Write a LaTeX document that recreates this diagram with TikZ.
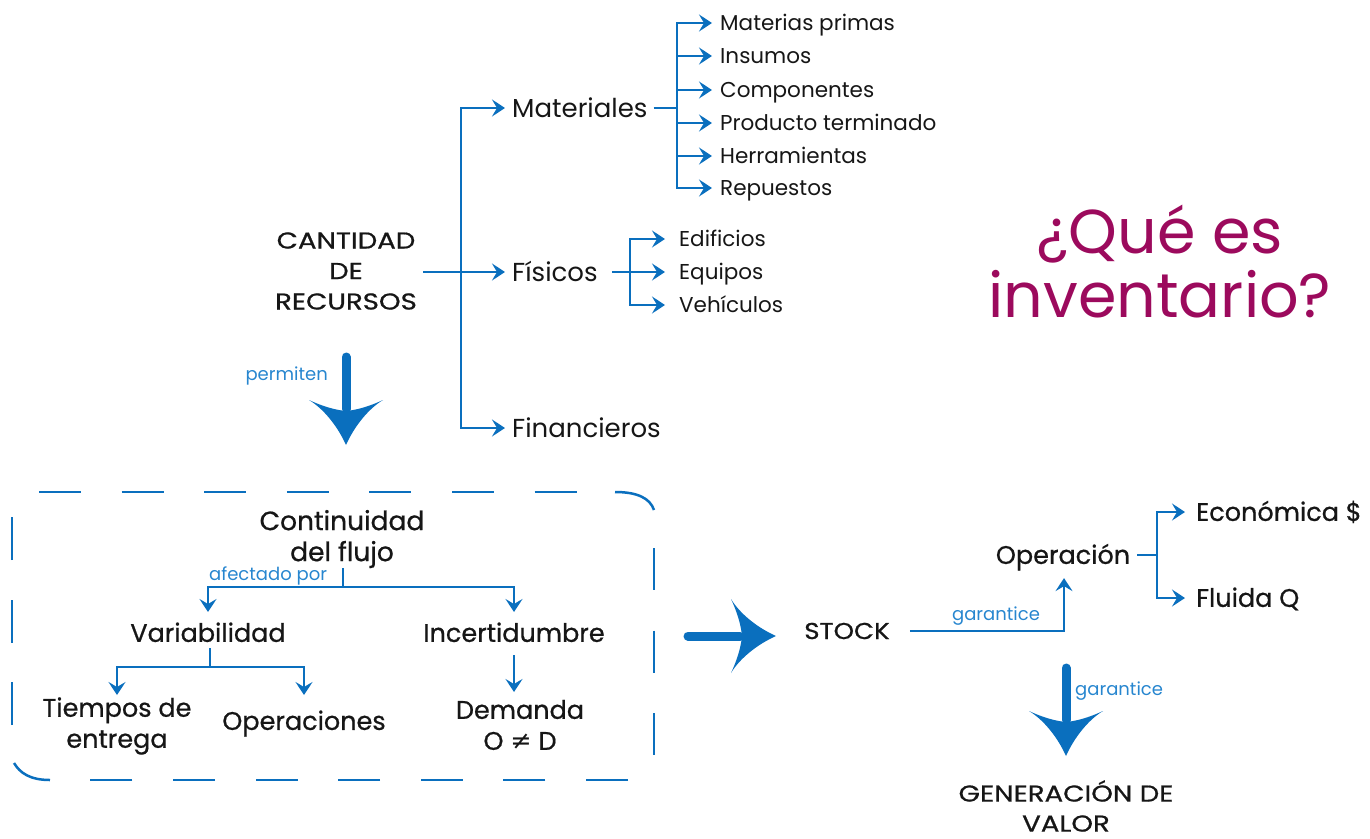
\documentclass[tikz,border=0pt]{standalone}
\usepackage{fontspec}
\setmainfont{Poppins}
\newfontfamily\medfont[FakeBold=0.7]{Poppins}
\newfontfamily\symfont{DejaVu Sans}
\usetikzlibrary{arrows.meta}
\definecolor{flow}{HTML}{0A6FBE}
\definecolor{tag}{HTML}{2786CF}
\definecolor{ink}{HTML}{161616}
\definecolor{headline}{HTML}{9C0A5D}
\newcommand{\wide}[1]{\scalebox{1.2}[1]{#1}}
\begin{document}
\begin{tikzpicture}[x=1pt,y=-1pt,
  every node/.style={inner sep=0pt, text=ink},
  item/.style={anchor=west, font=\fontsize{21.5}{24}\selectfont, text height=15pt, text depth=0pt},
  branch/.style={anchor=west, font=\fontsize{26}{30}\selectfont, text height=18.2pt, text depth=0pt},
  med/.style={font=\medfont\fontsize{25.5}{31}\selectfont, text height=17.8pt, text depth=0pt},
  medlines/.style={align=center, font=\medfont\fontsize{25.5}{31}\selectfont},
  capslines/.style={align=center, font=\medfont\fontsize{23}{30.5}\selectfont},
  tagtext/.style={text=tag, font=\fontsize{18}{20}\selectfont, text height=10pt, text depth=0pt},
  link/.style={draw=flow, line width=2.6pt},
  arr/.style={link, -{Stealth[length=13pt,width=17pt,inset=5pt]}},
  dashline/.style={draw=flow, line width=2.5pt, dash pattern=on 42pt off 40.6pt},
  bigarrow/.pic={
    \draw[flow, line width=9pt, line cap=round] (0,0) -- (52,0);
    \fill[flow] (88,0) .. controls (70,-8) and (52,-22) .. (43,-37)
      .. controls (50,-22) and (53,-10) .. (54,0)
      .. controls (53,10) and (50,22) .. (43,37)
      .. controls (52,22) and (70,8) .. (88,0) -- cycle;
  }]
\useasboundingbox (0,0) rectangle (1370,838);

% ---- resources tree ----
\node[capslines] (cant) at (346,271) {\wide{CANTIDAD}\\\wide{DE}\\\wide{RECURSOS}};
\node[branch] (mat) at (512,108) {Materiales};
\node[branch] (fis) at (512,272) {Físicos};
\node[branch] (fin) at (512,428) {Financieros};

\coordinate (t1) at (461,272);
\draw[arr] ([xshift=6pt]cant.east |- fis.west) -- ([xshift=-7pt]fis.west);
\draw[arr] (t1) |- ([xshift=-7pt]mat.west);
\draw[arr] (t1) |- ([xshift=-7pt]fin.west);

% materials
\node[item] (m1) at (720,23) {Materias primas};
\node[item] (m2) at (720,56) {Insumos};
\node[item] (m3) at (720,90) {Componentes};
\node[item] (m4) at (720,123) {Producto terminado};
\node[item] (m5) at (720,156) {Herramientas};
\node[item] (m6) at (720,188) {Repuestos};
\coordinate (t2) at (677,108);
\draw[link] ([xshift=6pt]mat.east) -- (t2);
\foreach \m in {m1,m2,m3,m4,m5,m6}
  \draw[arr] (t2) |- ([xshift=-8pt]\m.west);

% physical
\node[item] (f1) at (679,239) {Edificios};
\node[item] (f2) at (679,272) {Equipos};
\node[item] (f3) at (679,305) {Vehículos};
\coordinate (t3) at (630,272);
\draw[link] ([xshift=14pt]fis.east) -- (t3);
\foreach \f in {f1,f2,f3}
  \draw[arr] (t3) |- ([xshift=-14pt]\f.west);

% ---- title ----
\node[text=headline, align=center, font=\fontsize{62}{64}\selectfont] (title) at (1160,262) {¿Qué es\\inventario?};

% ---- permiten ----
\pic[rotate=-90] at (346,357) {bigarrow};
\node[tagtext, anchor=east] (perm) at (328,375) {permiten};

% ---- flow continuity box ----
\draw[dashline] (39,492) -- (600,492);
\draw[flow, line width=2.5pt] (615,492) .. controls (637,492) and (650,498) .. (654,510);
\draw[dashline] (654,548) -- (654,780);
\draw[dashline] (628,780) -- (60,780);
\draw[flow, line width=2.5pt] (50,780) .. controls (30,780) and (20,773) .. (14,763);
\draw[flow, line width=2.5pt, dash pattern=on 43pt off 39.5pt] (12,725) -- (12,492);

\node[medlines, font=\medfont\fontsize{26.5}{31}\selectfont] (cont) at (342,539) {Continuidad\\del flujo};
\node[med] (var) at (208,633) {Variabilidad};
\node[med] (inc) at (514,633) {Incertidumbre};
\node[medlines] (tie) at (117,726) {Tiempos de\\entrega};
\node[med] (ope) at (304,721) {Operaciones};
\node[medlines] (dem) at (520,725) {Demanda\\O {\symfont ≠} D};

\coordinate (c1) at (343,587);
\coordinate (r1) at (0,612);
\draw[link] (c1 |- cont.south) -- (c1);
\draw[arr] (c1) -| (var.north |- r1);
\draw[arr] (c1) -| (inc.north |- r1);
\node[tagtext, anchor=west] (afe) at (209,575) {afectado por};

\coordinate (c2) at (210,667);
\coordinate (r2) at (0,695);
\draw[link] ([yshift=-6pt]var.south -| c2) -- (c2);
\draw[arr] (c2) -| (tie.north |- r2);
\draw[arr] (c2) -| (ope.north |- r2);
\coordinate (r3) at (0,692);
\draw[arr] ([yshift=-13pt]inc.south) -- (inc.south |- r3);

% ---- stock and value ----
\pic at (688,636) {bigarrow};
\node[capslines] (stock) at (847,631) {\scalebox{1.13}[1]{STOCK}};
\node[med] (op) at (1063,555) {Operación};
\node[med, anchor=west] (eco) at (1196,512) {Económica \$};
\node[med, anchor=west] (flu) at (1196,598) {Fluida Q};

\draw[arr] ([xshift=20pt]stock.east) -| ([xshift=1pt,yshift=-14pt]op.south);
\node[tagtext] (gar1) at (996,615) {garantice};

\coordinate (t4) at (1157,557);
\draw[link] ([xshift=7pt]op.east) -- (op.east -| t4);
\draw[arr] (op.east -| t4) |- ([xshift=-11pt]eco.west);
\draw[arr] (op.east -| t4) |- ([xshift=-11pt]flu.west);

\pic[rotate=-90] at (1066,668) {bigarrow};
\node[tagtext, anchor=west] (gar2) at (1075,690) {garantice};
\node[capslines, font=\medfont\fontsize{23}{30}\selectfont] (gen) at (1066,806) {\wide{GENERACIÓN DE}\\\wide{VALOR}};
\end{tikzpicture}
\end{document}
